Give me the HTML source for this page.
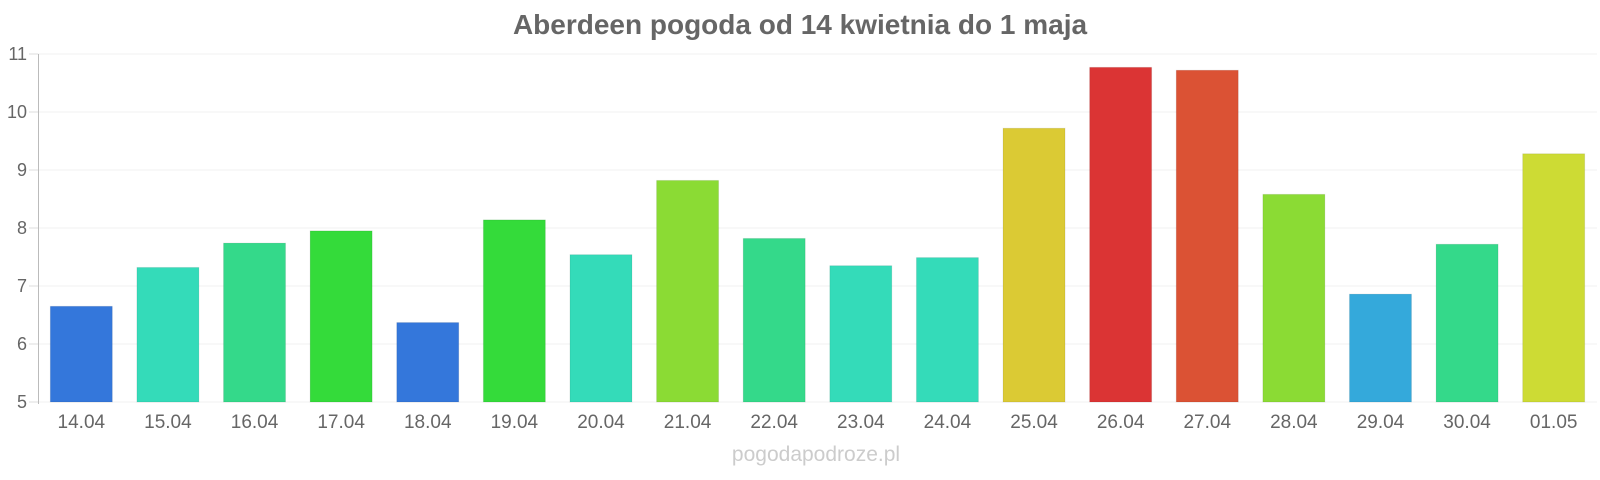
<!DOCTYPE html>
<html><head><meta charset="utf-8"><style>
html,body{margin:0;padding:0;background:#fff;}
svg{display:block;font-family:"Liberation Sans",sans-serif;}
</style></head><body>
<svg width="1600" height="480" viewBox="0 0 1600 480">
<text x="800" y="34" text-anchor="middle" font-size="28" font-weight="bold" fill="#666">Aberdeen pogoda od 14 kwietnia do 1 maja</text>
<g stroke="#f0f0f0" stroke-width="1">
<line x1="38" x2="1597" y1="54" y2="54"/><line x1="38" x2="1597" y1="112" y2="112"/><line x1="38" x2="1597" y1="170" y2="170"/><line x1="38" x2="1597" y1="228" y2="228"/><line x1="38" x2="1597" y1="286" y2="286"/><line x1="38" x2="1597" y1="344" y2="344"/><line x1="38" x2="1597" y1="402" y2="402"/>
</g>
<g stroke="#ddd"><line x1="29" x2="38" y1="54" y2="54"/><line x1="29" x2="38" y1="112" y2="112"/><line x1="29" x2="38" y1="170" y2="170"/><line x1="29" x2="38" y1="228" y2="228"/><line x1="29" x2="38" y1="286" y2="286"/><line x1="29" x2="38" y1="344" y2="344"/><line x1="29" x2="38" y1="402" y2="402"/></g>
<line x1="38.5" x2="38.5" y1="54" y2="404" stroke="#bbb"/>
<g font-size="18" fill="#666" text-anchor="end">
<text x="27" y="60">11</text><text x="27" y="118">10</text><text x="27" y="176">9</text><text x="27" y="234">8</text><text x="27" y="292">7</text><text x="27" y="350">6</text><text x="27" y="408">5</text>
</g>
<g id="bars"></g>
<g font-size="19" fill="#666" text-anchor="middle" id="xl"></g>
<text x="816" y="461" text-anchor="middle" font-size="21" fill="#ccc">pogodapodroze.pl</text>
<script>
var d=[["14.04",6.65,"#3477db"],["15.04",7.32,"#34dbb9"],["16.04",7.74,"#34d98a"],["17.04",7.95,"#34db3a"],["18.04",6.37,"#3477db"],["19.04",8.14,"#34db3a"],["20.04",7.54,"#34dbb9"],["21.04",8.82,"#8bdb34"],["22.04",7.82,"#34d98a"],["23.04",7.35,"#34dbb9"],["24.04",7.49,"#34dbb9"],["25.04",9.72,"#dbca34"],["26.04",10.77,"#db3434"],["27.04",10.72,"#db5234"],["28.04",8.58,"#8bdb34"],["29.04",6.86,"#34a9db"],["30.04",7.72,"#34d98a"],["01.05",9.28,"#cddb34"]];
var ns="http://www.w3.org/2000/svg",b=document.getElementById("bars"),xl=document.getElementById("xl");
var slot=(1597-38)/18;
d.forEach(function(e,i){var cx=38+slot*(i+0.5);var top=402-(e[1]-5)*58;
var r=document.createElementNS(ns,"rect");r.setAttribute("x",cx-31);r.setAttribute("width",62);r.setAttribute("y",top);r.setAttribute("height",402-top);r.setAttribute("fill",e[2]);r.setAttribute("stroke","rgba(0,0,0,0.08)");b.appendChild(r);
var t=document.createElementNS(ns,"text");t.setAttribute("x",cx);t.setAttribute("y",428);t.textContent=e[0];xl.appendChild(t);});
</script>
</svg>
</body></html>
